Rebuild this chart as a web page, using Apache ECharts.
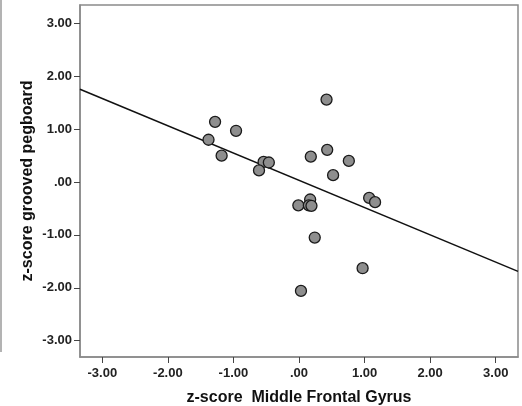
<!DOCTYPE html>
<html>
<head>
<meta charset="utf-8">
<script src="https://cdn.jsdelivr.net/npm/echarts@6/dist/echarts.min.js"></script>
<style>
  html, body { margin: 0; padding: 0; background: #ffffff; }
  #chart { width: 522px; height: 406px; }
</style>
</head>
<body>
<div id="chart"></div>
<script>
// data
const xValues = [0.42, -1.28, -0.96, -1.38, -1.18, -0.54, -0.46, -0.61, 0.18, 0.43, 0.76,
  0.52, 1.07, 1.16, -0.01, 0.17, 0.15, 0.19, 0.24, 0.97, 0.03];
const yValues = [1.56, 1.14, 0.97, 0.80, 0.50, 0.38, 0.37, 0.22, 0.48, 0.61, 0.40,
  0.13, -0.30, -0.38, -0.44, -0.33, -0.44, -0.45, -1.05, -1.63, -2.06];
const fitX = [-3.34, 3.34];
const fitY = [1.755, -1.69];
const tickValues = [-3, -2, -1, 0, 1, 2, 3];
const tickLabels = ['-3.00', '-2.00', '-1.00', '.00', '1.00', '2.00', '3.00'];

const points = xValues.map((x, i) => [x, yValues[i]]);
const fitLine = fitX.map((x, i) => [x, fitY[i]]);

const chart = echarts.init(document.getElementById('chart'));

function labelFor(v) {
  const i = tickValues.findIndex(t => Math.abs(t - v) < 1e-6);
  return i >= 0 ? tickLabels[i] : '';
}

// 坐标轴公共样式
function axisOf(min, max, name, gap, labelMargin) {
  return {
    type: 'value',
    min: min,
    max: max,
    name: name,
    nameLocation: 'middle',
    nameGap: gap,
    nameTextStyle: {
      fontFamily: 'Liberation Sans',
      fontWeight: 'bold',
      fontSize: 16,
      color: '#111'
    },
    axisLine: {
      show: true,
      onZero: false,
      lineStyle: { color: '#8a8a8a', width: 1.5 }
    },
    axisTick: {
      show: true,
      customValues: tickValues,
      length: 6,
      lineStyle: { color: '#444', width: 1 }
    },
    axisLabel: {
      customValues: tickValues,
      formatter: labelFor,
      fontFamily: 'Liberation Sans',
      fontWeight: 'bold',
      fontSize: 13,
      color: '#222',
      margin: labelMargin
    },
    splitLine: { show: false }
  };
}

const yAxis = axisOf(-3.31, 3.35, 'z-score grooved pegboard', 44, 8);
yAxis.nameMoveOverlap = false;

const option = {
  backgroundColor: '#ffffff',
  animation: false,
  grid: {
    left: 80,
    right: 4,
    top: 5,
    bottom: 49,
    containLabel: false,
    outerBoundsMode: 'none',
    show: true,
    borderColor: '#8a8a8a',
    borderWidth: 1.5,
    backgroundColor: '#ffffff'
  },
  xAxis: axisOf(-3.34, 3.34, 'z-score  Middle Frontal Gyrus', 33, 10),
  yAxis: yAxis,
  graphic: [
    {
      type: 'line',
      shape: { x1: 1, y1: 0, x2: 1, y2: 352 },
      style: { stroke: '#9a9a9a', lineWidth: 1.5 }
    }
  ],
  series: [
    {
      type: 'line',
      data: fitLine,
      symbol: 'none',
      lineStyle: { color: '#111', width: 1.5 },
      z: 2
    },
    {
      type: 'scatter',
      data: points,
      symbolSize: 11,
      itemStyle: {
        color: '#8e8e8e',
        borderColor: '#1a1a1a',
        borderWidth: 1.3,
        opacity: 1
      },
      z: 3
    }
  ]
};

chart.setOption(option);
</script>
</body>
</html>
